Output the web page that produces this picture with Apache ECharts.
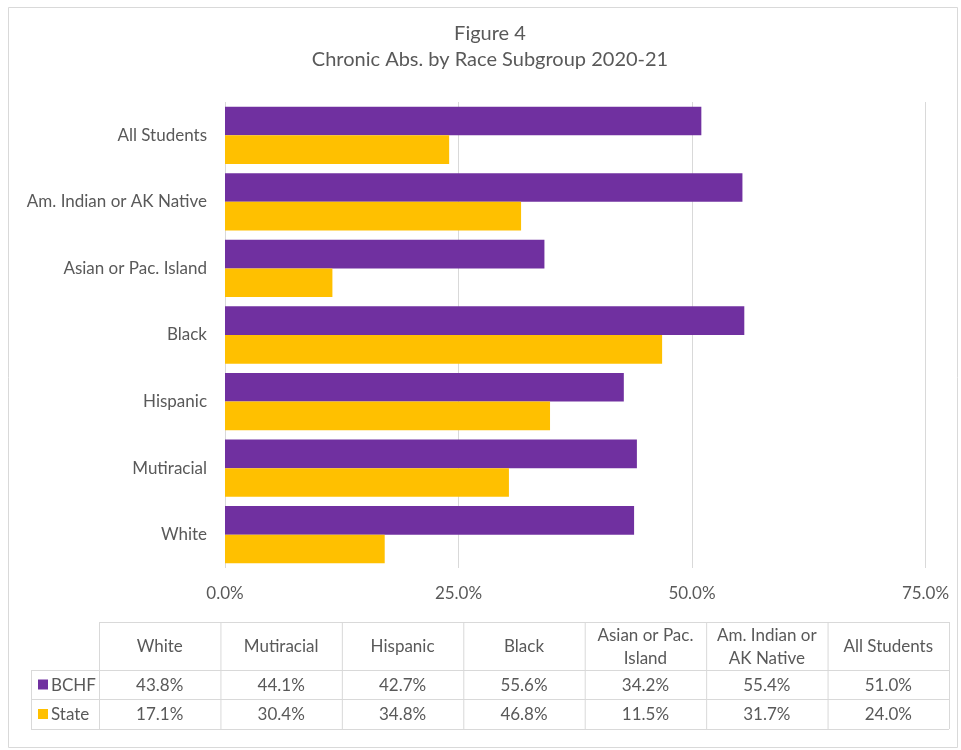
<!DOCTYPE html>
<html>
<head>
<meta charset="utf-8">
<script src="https://cdn.jsdelivr.net/npm/echarts@6/dist/echarts.min.js"></script>
<style>
html,body{margin:0;padding:0;background:#fff;}
#chart{width:961px;height:750px;}
</style>
</head>
<body>
<div id="chart"></div>
<script>
// Categories, top to bottom as in the chart
var categories = ['All Students', 'Am. Indian or AK Native', 'Asian or Pac. Island', 'Black', 'Hispanic', 'Mutiracial', 'White'];
var bchfValues = [51.0, 55.4, 34.2, 55.6, 42.7, 44.1, 43.8];
var stateValues = [24.0, 31.7, 11.5, 46.8, 34.8, 30.4, 17.1];
var seriesNames = ['BCHF', 'State'];
var xTicks = [0, 25, 50, 75];
// Data table (columns in table order)
var tableHeaders = ['White', 'Mutiracial', 'Hispanic', 'Black', 'Asian or Pac.\nIsland', 'Am. Indian or\nAK Native', 'All Students'];
var tableKeys = ['White', 'Mutiracial', 'Hispanic', 'Black', 'Asian or Pac. Island', 'Am. Indian or AK Native', 'All Students'];
var titleLines = ['Figure 4', 'Chronic Abs. by Race Subgroup 2020-21'];

var colors = ['#7030A0', '#FFC000'];
var textColor = '#595959';
var lineColor = '#D9D9D9';
var font = 'Lato';
var fs = 17;

var chart = echarts.init(document.getElementById('chart'));

var tX0 = 99, tX1 = 949, tY0 = 622, tY1 = 670, tY2 = 699, tY3 = 729, lX0 = 31;
var colW = (tX1 - tX0) / tableHeaders.length;
var g = [];
g.push({type:'rect', shape:{x:8.5,y:7.5,width:949,height:740}, style:{fill:null, stroke:'#D9D9D9', lineWidth:1}, silent:true});
// title
g.push({type:'text', x:490, y:34, style:{text:titleLines[0], fill:textColor, font:'20px "'+font+'"', align:'center', verticalAlign:'middle'}, silent:true});
g.push({type:'text', x:490, y:60, style:{text:titleLines[1], fill:textColor, font:'20px "'+font+'"', align:'center', verticalAlign:'middle'}, silent:true});
function hline(x1,x2,y){ g.push({type:'line', shape:{x1:x1,y1:y+0.5,x2:x2,y2:y+0.5}, style:{stroke:lineColor,lineWidth:1}, silent:true}); }
function vline(x,y1,y2){ g.push({type:'line', shape:{x1:x+0.5,y1:y1,x2:x+0.5,y2:y2}, style:{stroke:lineColor,lineWidth:1}, silent:true}); }
hline(tX0, tX1, tY0);
hline(lX0, tX1, tY1);
hline(lX0, tX1, tY2);
hline(lX0, tX1, tY3);
vline(lX0, tY1, tY3);
for (var c = 0; c <= tableHeaders.length; c++) vline(tX0 + c*colW, tY0, tY3);
tableHeaders.forEach(function(h, i){
  g.push({type:'text', x: tX0 + (i+0.5)*colW, y:(tY0+tY1)/2+1,
    style:{text:h, fill:textColor, font:fs+'px "'+font+'"', align:'center', verticalAlign:'middle', lineHeight:23}, silent:true});
});
var rowVals = [bchfValues, stateValues];
var rowYs = [(tY1+tY2)/2, (tY2+tY3)/2];
rowVals.forEach(function(vals, r){
  g.push({type:'rect', shape:{x:38,y:rowYs[r]-5,width:10,height:10}, style:{fill:colors[r]}, silent:true});
  g.push({type:'text', x:51, y:rowYs[r]+1, style:{text:seriesNames[r], fill:textColor, font:fs+'px "'+font+'"', align:'left', verticalAlign:'middle'}, silent:true});
  tableKeys.forEach(function(k, i){
    var v = vals[categories.indexOf(k)];
    g.push({type:'text', x: tX0 + (i+0.5)*colW, y: rowYs[r]+1,
      style:{text: v.toFixed(1)+'%', fill:textColor, font:fs+'px "'+font+'"', align:'center', verticalAlign:'middle'}, silent:true});
  });
});

chart.setOption({
  animation:false,
  backgroundColor:'#fff',
  grid:{left:225, right:35.5, top:102, bottom:182, containLabel:false},
  xAxis:{
    type:'value', min:xTicks[0], max:xTicks[xTicks.length-1], interval:25,
    axisLine:{show:false}, axisTick:{show:false},
    splitLine:{show:true, lineStyle:{color:lineColor, width:1}},
    axisLabel:{formatter:function(v){return v.toFixed(1)+'%';}, color:textColor, fontFamily:font, fontSize:fs, margin:17}
  },
  yAxis:{
    type:'category', data:categories, inverse:true,
    axisLine:{show:false}, axisTick:{show:false},
    axisLabel:{color:textColor, fontFamily:font, fontSize:fs, margin:18}
  },
  series:[
    {name:seriesNames[0], type:'bar', data:bchfValues, itemStyle:{color:colors[0]}, barGap:'0%', barCategoryGap:'14%'},
    {name:seriesNames[1], type:'bar', data:stateValues, itemStyle:{color:colors[1]}, barGap:'0%', barCategoryGap:'14%'}
  ],
  graphic:g
});
</script>
</body>
</html>
